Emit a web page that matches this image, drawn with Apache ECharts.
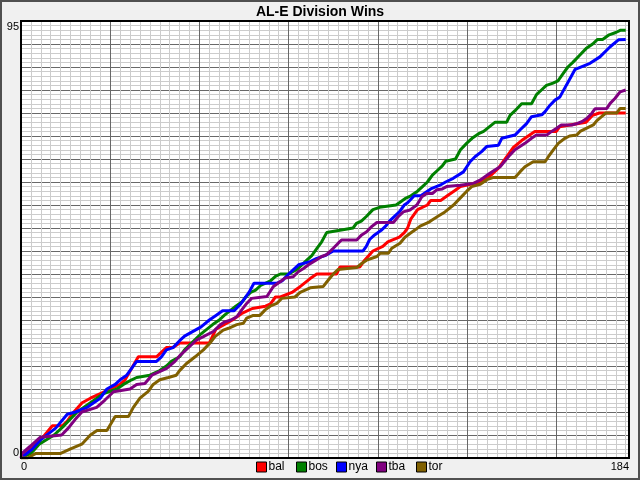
<!DOCTYPE html>
<html>
<head>
    <meta charset="utf-8">
    <title>AL-E Division Wins</title>
    <style>
        html, body{
            margin: 0;
            padding: 0;
            background: #f0f0f0;
        }
        #main{
            width: 640px;
            height: 480px;
        }
    </style>
</head>
<body>
<div id="main"></div>
<script type="text/javascript" src="https://cdn.jsdelivr.net/npm/echarts@6.0.0/dist/echarts.min.js"></script>
<script type="text/javascript">
    // [day of season, wins so far]
    var teams = ['bal', 'bos', 'nya', 'tba', 'tor'];
    var balWins = [[0,0],[3,2],[6,4],[9.5,7],[12.5,7],[14,8],[16,10],[18.5,12],[21,13],[24,14],[27,15],[30,16],[31.5,17],[35.5,22],[41,22],[44,24],[46,24],[48,25],[57,25],[59,28],[64,30],[67,31.5],[70,32.5],[74,33],[75.5,33.5],[77,35],[78.5,35],[82,36],[84,37],[87.5,39],[89.5,40],[95.5,40],[96.5,41.5],[102.5,41.5],[104,43],[106.5,45],[109.5,46],[111,47],[114.5,48],[116,49],[117,50],[118,52],[120,54],[123,55],[124,56],[127,56],[129,57],[131,58],[133,59],[139,60],[141.5,61],[144.5,63],[147.5,66],[149,67.5],[151.5,69],[153.5,70],[155.5,71],[162,71],[163,72],[167,72.5],[171,73],[173,74.5],[175,75],[183,75]];
    var bosWins = [[0,0],[3,1],[5.5,3],[10,5],[13,7],[17,10],[22,12.5],[25,14],[29,15],[31,16],[33.5,17],[35,17.5],[39,18],[42,19],[44,20],[45.5,21],[48,22],[49.5,23.5],[54.5,27],[58,29],[60,30],[61.5,31],[65,33],[67,34],[68,35],[69.5,36],[71,36.5],[72.5,37.5],[75.5,38.5],[77,39.5],[78.5,40],[81,40],[83.5,41],[85,42],[86.5,43],[88,44],[89.5,45.5],[91,47],[92.5,49],[100.5,50],[101.5,51],[103,51.5],[104.5,52.5],[106.5,54],[108.5,54.5],[113.5,55],[114.5,55.5],[116.5,56.5],[118,57],[120,58],[121.5,59],[123,60],[124.5,61.5],[126,62.5],[127.5,63.5],[128.5,64.5],[131.5,65],[133,67],[135,68.5],[136.5,69.5],[138.5,70.5],[140,71],[143.5,73],[147,73],[148,74.5],[149.5,75.5],[151.5,77],[154.5,77],[156,79],[157.5,80],[159,81],[161,81.5],[162.5,82],[164,83.5],[165.5,85],[167,86],[169,87.5],[171,89],[173,90],[174.5,91],[176,91],[178,92],[180,92.5],[181.5,93],[183,93]];
    var nyaWins = [[0,0],[3.5,2],[6,4],[10.5,6.5],[14,9.5],[16.5,10],[20,11],[21,11.5],[24,13],[26,15],[28.5,16],[30,17],[32,18],[35,21],[41,21],[42.5,22],[44,23.5],[46,24],[48,25.5],[49.5,26.5],[54.5,28.5],[57,30],[59,31],[61,32],[64.5,32],[66.5,33.5],[69,36],[70.5,38],[77.5,38],[79,38.5],[81,40],[84,42],[87.5,42.7],[89.5,43.4],[92,44],[94.5,45],[103.5,45],[104.5,46],[105.5,47.5],[107,48.5],[109,49.5],[110.5,50.5],[111.5,51.5],[114.5,53.5],[116,55],[117,55.5],[119,57],[121,57],[124,58.5],[126.8,59.3],[128.5,60],[130.8,60.8],[133.9,62.2],[135.9,64.4],[137.4,65.5],[139.4,66.6],[140.9,67.7],[144.5,68],[145.5,69.5],[149.5,70.2],[151,71.3],[153,72.7],[154.5,74.2],[157.6,74.6],[158.6,75.3],[160.1,76.7],[161.6,77.8],[163.1,78.5],[165,81],[167.7,84.5],[172.2,85.8],[175.2,87.2],[178.3,89.4],[180.8,90.9],[183,91]];
    var tbaWins = [[0,0],[0.3,1],[2.7,2.5],[5.8,4.5],[12.3,5],[14.3,6.5],[16.3,8.3],[18.4,10],[22.9,11],[25.4,12.6],[28,14.4],[33,15],[35,16],[37.5,16.2],[39.6,18],[44.1,19.5],[46.6,21],[48,22.2],[53.2,25.7],[55.2,26.4],[58.2,27.5],[60.2,28.9],[61.7,29.6],[63.5,30],[65.3,30.7],[66.8,32.2],[68.3,33.6],[69.8,34.7],[74.4,35.1],[75.4,36.2],[76.4,37.3],[78.4,38.3],[79.9,39.1],[82.4,39.4],[83.9,40.5],[85.5,41.2],[87,42],[89.5,43.1],[91,43.8],[92.5,44.2],[94.5,45.6],[96,46.7],[97,47.4],[101.6,47.4],[103.1,48.5],[104.6,49.2],[106.1,50.3],[107.7,51.2],[112.7,51.2],[114.2,52.5],[115.7,53.5],[117.7,53.9],[119.8,55],[121.3,56.8],[122.8,57.5],[124.5,57.5],[125.8,58.3],[127.5,58.5],[128.8,59],[132.9,59.3],[136.9,59.7],[138.9,60.4],[141.9,61.9],[143.4,62.6],[145,63.3],[148,65.9],[149.5,67],[151,67.7],[152.5,68.4],[154.5,69.5],[156,70.2],[159.1,70.2],[160.6,71],[162.1,71.7],[163.5,72.4],[166.7,72.4],[168.2,72.7],[169.7,73.1],[171.2,73.8],[172.7,74.9],[173.7,75.9],[177.3,76],[178.3,77.1],[179.8,78.2],[181.3,79.6],[183,80]];
    var torWins = [[0,0],[2,0],[4.5,1],[12,1],[15,2],[18.4,3],[21,5],[23,6],[26,6],[28.5,9],[32.5,9],[34,11],[36,13],[38.5,14.5],[40,16],[42,17],[44.6,17.5],[47,18],[48,19],[50,20.5],[52.7,22],[55.2,23.5],[57.2,25],[58.7,26.4],[61.2,27.8],[62.8,28.2],[65.3,29],[67.3,29.3],[68.3,30.4],[70.3,31],[72.3,31],[73.9,32.2],[75.4,33],[77.4,33.6],[78.9,34.7],[82.9,35],[84.5,36],[87.5,37],[91.5,37.3],[93,38.7],[94.5,40],[96,41],[101.6,41.4],[103.1,42.3],[104.6,43],[107.7,43.8],[108.7,44.5],[111.2,44.5],[112.2,45.6],[114.7,46.7],[116.2,48],[117.7,48.8],[119.3,49.6],[120.8,50.4],[123.3,51.2],[124.3,51.7],[126.3,52.6],[128.3,53.5],[130.9,55],[132.9,56.5],[134.9,58],[136.4,59],[139,59.5],[141,60.5],[143,61],[149.5,61],[151,62.2],[152.5,63.3],[155,64.4],[158.6,64.4],[159.6,65.5],[161.1,67],[162.6,68.4],[164.6,69.5],[166,70],[168.2,70.2],[169.2,71],[171.2,71.7],[173.2,72.4],[174.2,73.3],[175.7,74.2],[177,75],[180.3,75],[181.3,76],[183,76]];
    var xMax = 184;
    var yMax = 95;
</script>
<script type="text/javascript">
    var teamColors = ['#ff0000', '#008000', '#0000ff', '#800080', '#806000'];
    var teamData = [balWins, bosWins, nyaWins, tbaWins, torWins];
    var font = '"Liberation Sans", Arial, sans-serif';

    // minor grid every 3 days / 1 win, darker line every 27 days / 5 wins
    var xGridColors = ['#686868'];
    for (var i = 0; i < 8; i++) xGridColors.push('#cccccc');
    var yGridColors = ['#686868'];
    for (var j = 0; j < 4; j++) yGridColors.push('#cccccc');

    var series = [];
    var legends = [];
    for (var k = 0; k < teams.length; k++) {
        series.push({
            name: teams[k],
            type: 'line',
            xAxisIndex: 0,
            yAxisIndex: 0,
            data: teamData[k],
            showSymbol: false,
            symbol: 'none',
            color: teamColors[k],
            lineStyle: {width: 3, color: teamColors[k]},
            animation: false
        });
        // one legend per team so the boxes sit on an even 40px pitch
        legends.push({
            data: [teams[k]],
            left: 256 + 40 * k,
            top: 461,
            padding: 0,
            itemWidth: 10,
            itemHeight: 10,
            icon: 'rect',
            itemStyle: {borderColor: '#000', borderWidth: 1},
            textStyle: {fontFamily: font, fontSize: 12, color: '#000', padding: [0, 0, 0, -3]}
        });
    }

    var myChart = echarts.init(document.getElementById('main'));
    var option = {
        backgroundColor: '#f0f0f0',
        animation: false,
        title: {
            text: 'AL-E Division Wins',
            left: 'center',
            top: 0,
            textStyle: {fontFamily: font, fontSize: 14, fontWeight: 'bold', color: '#000'}
        },
        legend: legends,
        grid: {
            left: 21,
            top: 21,
            right: 11,
            bottom: 22,
            show: true,
            backgroundColor: '#fff',
            borderWidth: 0
        },
        xAxis: [{
            type: 'value',
            min: 0,
            max: xMax,
            interval: 3,
            axisLine: {show: false},
            axisTick: {show: false},
            axisLabel: {show: false},
            splitLine: {show: true, lineStyle: {color: xGridColors, width: 1}}
        }, {
            type: 'value',
            min: 0,
            max: xMax,
            interval: xMax,
            position: 'bottom',
            axisLine: {show: false},
            axisTick: {show: false},
            splitLine: {show: false},
            axisLabel: {
                show: true, margin: 3, fontFamily: font, fontSize: 11, color: '#000',
                alignMinLabel: 'left', alignMaxLabel: 'right'
            }
        }],
        yAxis: [{
            type: 'value',
            min: 0,
            max: yMax,
            interval: 1,
            axisLine: {show: false},
            axisTick: {show: false},
            axisLabel: {show: false},
            splitLine: {show: true, lineStyle: {color: yGridColors, width: 1}}
        }, {
            type: 'value',
            min: 0,
            max: yMax,
            interval: yMax,
            position: 'left',
            axisLine: {show: false},
            axisTick: {show: false},
            splitLine: {show: false},
            axisLabel: {
                show: true, margin: 2, fontFamily: font, fontSize: 11, color: '#000',
                verticalAlignMinLabel: 'bottom', verticalAlignMaxLabel: 'top'
            }
        }],
        graphic: [{
            type: 'rect',
            z: 100,
            silent: true,
            shape: {x: 21, y: 21, width: 608, height: 437},
            style: {fill: 'none', stroke: '#000', lineWidth: 2}
        }, {
            type: 'rect',
            z: 100,
            silent: true,
            shape: {x: 1, y: 1, width: 638, height: 478},
            style: {fill: 'none', stroke: '#505050', lineWidth: 2}
        }],
        series: series
    };
    myChart.setOption(option);
</script>
</body>
</html>
